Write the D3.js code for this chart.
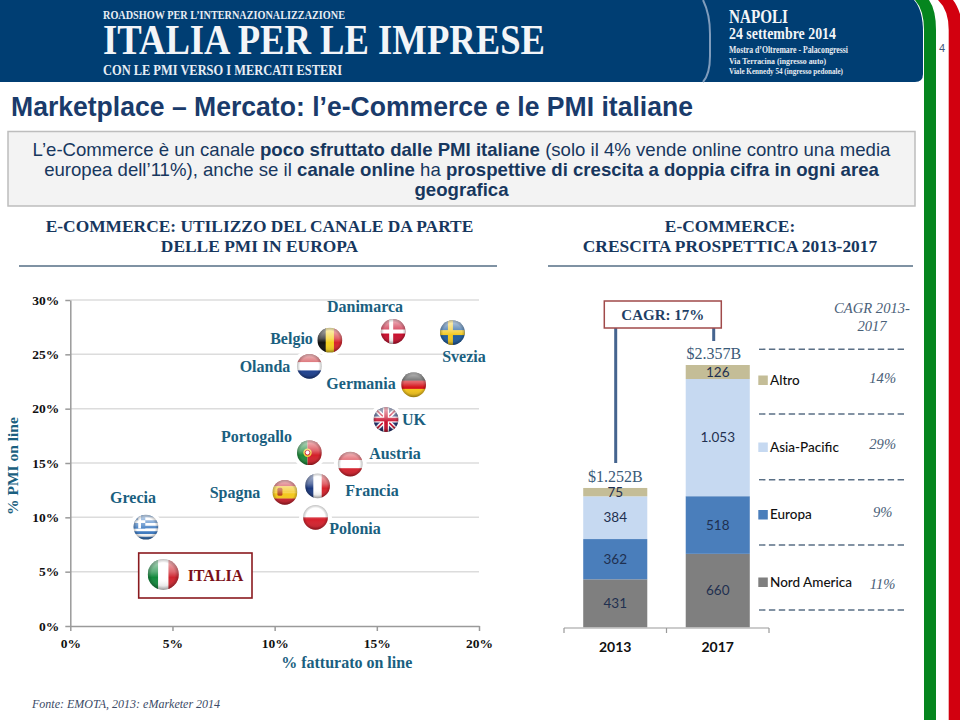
<!DOCTYPE html>
<html><head><meta charset="utf-8">
<script src="https://cdn.jsdelivr.net/npm/d3@7"></script>
<style>html,body{margin:0;padding:0;background:#fff}svg{display:block}</style>
</head><body><div id="c"></div>
<script>
// ---------- data ----------
const countries = ["Danimarca","Svezia","Belgio","Olanda","Germania","UK","Portogallo","Austria","Francia","Spagna","Polonia","Grecia","ITALIA"];
const fatturato = [15.8,18.7,12.7,11.7,16.8,15.45,11.7,13.7,12.1,10.5,12.0,3.7,4.55];
const pmiOnline = [27.1,27.0,26.3,23.9,22.2,19.0,15.95,14.9,12.9,12.3,10.0,9.1,4.75];
const scatterXTicks = [0,5,10,15,20];
const scatterYTicks = [0,5,10,15,20,25,30];
const years = ["2013","2017"];
const regions = ["Nord America","Europa","Asia-Pacific","Altro"];
const values2013 = [431,362,384,75];
const values2017 = [660,518,1053,126];
const valueLabels2013 = ["431","362","384","75"];
const valueLabels2017 = ["660","518","1.053","126"];
const totalLabels = ["$1.252B","$2.357B"];
const regionCagr = ["11%","9%","29%","14%"];

// ---------- helpers ----------
const W=960,H=720, NAVY="#17375e", TEAL="#1a5f80";
const SERIF="'Liberation Serif',serif", SANS="'Liberation Sans',sans-serif", CAL="Lato,sans-serif";
const svg=d3.select("#c").append("svg").attr("width",W).attr("height",H).attr("viewBox",`0 0 ${W} ${H}`);
const defs=svg.append("defs");
function T(g,x,y,s,o={}){
  const t=g.append("text").attr("x",x).attr("y",y).attr("font-family",o.f||SERIF).attr("font-size",o.s||14)
   .attr("fill",o.c||NAVY).attr("text-anchor",o.a||"middle").text(s);
  if(o.w)t.attr("font-weight",o.w); if(o.i)t.attr("font-style","italic");
  if(o.len)t.attr("textLength",o.len).attr("lengthAdjust","spacingAndGlyphs");
  if(o.r)t.attr("transform",`rotate(${o.r} ${x} ${y})`);
  return t;
}
svg.append("rect").attr("width",W).attr("height",H).attr("fill","#fff");

// ---------- header ----------
const head=svg.append("g");
head.append("path").attr("d","M0,0 L914,0 Q923,10 923,32 L923,74 Q923,82 915,82 L0,82 Z").attr("fill","#003e73");
head.append("path").attr("d","M703,0 Q710,14 710,34 L710,56 Q710,74 703,82").attr("fill","none").attr("stroke","#7f9cbc").attr("stroke-width",2);
T(head,103,19,"ROADSHOW PER L’INTERNAZIONALIZZAZIONE",{a:"start",s:13,c:"#e8edf3",w:"bold",len:242});
T(head,103,54,"ITALIA PER LE IMPRESE",{a:"start",s:43,c:"#f3f5f8",w:"bold",len:442});
T(head,103,75,"CON LE PMI VERSO I MERCATI ESTERI",{a:"start",s:14.5,c:"#e8edf3",w:"bold",len:239});
T(head,729,23,"NAPOLI",{a:"start",s:18,c:"#f3f5f8",w:"bold",len:59});
T(head,729,39,"24 settembre 2014",{a:"start",s:16,c:"#f3f5f8",w:"bold",len:107});
T(head,729,53,"Mostra d’Oltremare - Palacongressi",{a:"start",s:9.5,c:"#e8edf3",w:"bold",len:119});
T(head,729,64,"Via Terracina (ingresso auto)",{a:"start",s:9,c:"#e8edf3",w:"bold",len:97});
T(head,729,74,"Viale Kennedy 54 (ingresso pedonale)",{a:"start",s:9,c:"#e8edf3",w:"bold",len:114});

// ribbon
svg.append("path").attr("d","M915,0 Q924,10 924,30 L924,720 L936,720 L936,30 Q936,10 929,0 Z").attr("fill","#05851e");
svg.append("path").attr("d","M938,0 Q948.7,10 948.7,30 L948.7,720 L960,720 L960,14 Q957,5 953,0 Z").attr("fill","#d2000f");
T(svg,942,52,"4",{f:SANS,s:11,c:"#46597a"});

// ---------- title + intro ----------
T(svg,11,116,"Marketplace – Mercato: l’e-Commerce e le PMI italiane",{f:SANS,a:"start",s:27,w:"bold",c:"#1a3b6b",len:682});
svg.append("rect").attr("x",8).attr("y",131.5).attr("width",907).attr("height",74.5).attr("fill","#f3f3f3").attr("stroke","#bdbdbd").attr("stroke-width",1.5);
const introLines=[
 [["L’e-Commerce è un canale ",0],["poco sfruttato dalle PMI italiane",1],[" (solo il 4% vende online contro una media",0]],
 [["europea dell’11%), anche se il ",0],["canale online",1],[" ha ",0],["prospettive di crescita a doppia cifra in ogni area",1]],
 [["geografica",1]]];
introLines.forEach((ln,i)=>{
  const t=T(svg,461.5,155.5+i*20,"",{f:SANS,s:18.6,c:NAVY});
  ln.forEach(([s,b])=>t.append("tspan").attr("font-weight",b?"bold":"normal").text(s));
});
T(svg,259.5,231.5,"E-COMMERCE: UTILIZZO DEL CANALE DA PARTE",{s:17.4,w:"bold"});
T(svg,259.5,252,"DELLE PMI IN EUROPA",{s:17.4,w:"bold"});
T(svg,730,231.5,"E-COMMERCE:",{s:17.4,w:"bold"});
T(svg,730,252,"CRESCITA PROSPETTICA 2013-2017",{s:17.4,w:"bold"});
[[19,497],[548,913]].forEach(([a,b])=>svg.append("line").attr("x1",a).attr("x2",b).attr("y1",266).attr("y2",266).attr("stroke","#7f92a3").attr("stroke-width",2));

// ---------- scatter ----------
const x=d3.scaleLinear().domain([0,20]).range([70.3,479]);
const y=d3.scaleLinear().domain([0,30]).range([626,300]);
const sc=svg.append("g");
sc.append("g").selectAll("line").data(scatterYTicks.filter(d=>d>0)).join("line")
  .attr("x1",x(0)).attr("x2",x(20)).attr("y1",d=>y(d)).attr("y2",d=>y(d)).attr("stroke","#dcdcdc").attr("stroke-width",1.5);
const pct=d=>d+"%";
const ax=sc.append("g").attr("transform",`translate(0,${y(0)})`).call(d3.axisBottom(x).tickValues(scatterXTicks).tickFormat(pct).tickSize(5).tickSizeOuter(0));
const ay=sc.append("g").attr("transform",`translate(${x(0)},0)`).call(d3.axisLeft(y).tickValues(scatterYTicks).tickFormat(pct).tickSize(5).tickSizeOuter(0));
[ax,ay].forEach(a=>{
  a.selectAll("path,line").attr("stroke","#9a9a9a").attr("stroke-width",1.5);
  a.selectAll("text").attr("font-family",SERIF).attr("font-size",13.5).attr("font-weight","bold").attr("fill","#111");
});
ax.selectAll("text").attr("dy",0).attr("y",21.5);
ay.selectAll("text").attr("x",-11).attr("dy","0.32em");
T(sc,14,466,"% PMI on line",{s:15.5,w:"bold",c:TEAL,r:-90}).attr("dominant-baseline","middle");
T(sc,346.7,667.5,"% fatturato on line",{s:16,w:"bold",c:TEAL});

// flags
const gl=defs.append("linearGradient").attr("id","gloss").attr("x1",0).attr("x2",0).attr("y1",0).attr("y2",1);
[[0,"#fff",.72],[.42,"#fff",.3],[.6,"#fff",0],[1,"#000",.2]].forEach(([o,c,a])=>gl.append("stop").attr("offset",o).attr("stop-color",c).attr("stop-opacity",a));
const rim=defs.append("radialGradient").attr("id","rim").attr("cx",.5).attr("cy",.5).attr("r",.5);
[[.75,"#000",0],[1,"#000",.25]].forEach(([o,c,a])=>rim.append("stop").attr("offset",o).attr("stop-color",c).attr("stop-opacity",a));

function stripesH(g,r,cols){const h=2*r/cols.length;cols.forEach((c,i)=>g.append("rect").attr("x",-r).attr("y",-r+i*h).attr("width",2*r).attr("height",h+.3).attr("fill",c));}
function stripesV(g,r,cols){const w=2*r/cols.length;cols.forEach((c,i)=>g.append("rect").attr("x",-r+i*w).attr("y",-r).attr("width",w+.3).attr("height",2*r).attr("fill",c));}
function cross(g,r,bg,c,cx,t){g.append("rect").attr("x",-r).attr("y",-r).attr("width",2*r).attr("height",2*r).attr("fill",bg);
  g.append("rect").attr("x",-r).attr("y",-t/2).attr("width",2*r).attr("height",t).attr("fill",c);
  g.append("rect").attr("x",cx-t/2).attr("y",-r).attr("width",t).attr("height",2*r).attr("fill",c);}
const painters={
 Danimarca:(g,r)=>cross(g,r,"#c8102e","#fff",-2,4),
 Svezia:(g,r)=>cross(g,r,"#1c5a9c","#f2c81e",-2,5),
 Belgio:(g,r)=>stripesV(g,r,["#111","#f4cf1d","#d5232c"]),
 Olanda:(g,r)=>stripesH(g,r,["#c8242c","#fff","#1c3f8f"]),
 Germania:(g,r)=>stripesH(g,r,["#222","#d5141c","#f5c518"]),
 UK:(g,r)=>{g.append("rect").attr("x",-r).attr("y",-r).attr("width",2*r).attr("height",2*r).attr("fill","#1f2f6e");
   [[-r,-r,r,r],[-r,r,r,-r]].forEach(([a,b,c,d])=>{g.append("line").attr("x1",a).attr("y1",b).attr("x2",c).attr("y2",d).attr("stroke","#fff").attr("stroke-width",4.5);
     g.append("line").attr("x1",a).attr("y1",b).attr("x2",c).attr("y2",d).attr("stroke","#c8102e").attr("stroke-width",1.6);});
   g.append("rect").attr("x",-r).attr("y",-3).attr("width",2*r).attr("height",6).attr("fill","#fff");
   g.append("rect").attr("x",-3).attr("y",-r).attr("width",6).attr("height",2*r).attr("fill","#fff");
   g.append("rect").attr("x",-r).attr("y",-1.8).attr("width",2*r).attr("height",3.6).attr("fill","#c8102e");
   g.append("rect").attr("x",-1.8).attr("y",-r).attr("width",3.6).attr("height",2*r).attr("fill","#c8102e");},
 Portogallo:(g,r)=>{g.append("rect").attr("x",-r).attr("y",-r).attr("width",r*.85).attr("height",2*r).attr("fill","#1d8a3a");
   g.append("rect").attr("x",-r*.15).attr("y",-r).attr("width",r*1.15).attr("height",2*r).attr("fill","#d3202a");
   g.append("circle").attr("cx",-r*.15).attr("r",4.2).attr("fill","#f2d23c");
   g.append("circle").attr("cx",-r*.15).attr("r",2.4).attr("fill","#fff").attr("stroke","#c8102e").attr("stroke-width",1);},
 Austria:(g,r)=>stripesH(g,r,["#d5202c","#fff","#d5202c"]),
 Francia:(g,r)=>stripesV(g,r,["#1c3a80","#fff","#d5232c"]),
 Spagna:(g,r)=>{stripesH(g,r,["#c8202c","#f4c81c","#f4c81c","#c8202c"]);
   g.append("rect").attr("x",-r*.6).attr("y",-4.5).attr("width",5).attr("height",8).attr("rx",1.5).attr("fill","#b8481c");},
 Polonia:(g,r)=>stripesH(g,r,["#fff","#d5202c"]),
 Grecia:(g,r)=>{const n=9,h=2*r/n;for(let i=0;i<n;i++)g.append("rect").attr("x",-r).attr("y",-r+i*h).attr("width",2*r).attr("height",h+.2).attr("fill",i%2?"#fff":"#3a78c0");
   g.append("rect").attr("x",-r).attr("y",-r).attr("width",r*.95).attr("height",h*5).attr("fill","#3a78c0");
   g.append("rect").attr("x",-r).attr("y",-r+h*2).attr("width",r*.95).attr("height",h).attr("fill","#fff");
   g.append("rect").attr("x",-r+r*.38).attr("y",-r).attr("width",h).attr("height",h*5).attr("fill","#fff");},
 ITALIA:(g,r)=>stripesV(g,r,["#12893c","#fff","#cf2630"])
};
const labelPlace={ // text centre x, baseline y in page pixels
 Danimarca:[365,312],Svezia:[464,362],Belgio:[291.5,344],Olanda:[265,372],Germania:[361,389],UK:[414,425],
 Portogallo:[256.5,442],Austria:[395,459],Francia:[372,496],Spagna:[235,498],Polonia:[355,534],Grecia:[133,503],ITALIA:[215.5,581]};

sc.append("rect").attr("x",138.7).attr("y",553).attr("width",113.3).attr("height",45).attr("fill","#fff").attr("stroke","#8a1a1f").attr("stroke-width",1.6);
countries.forEach((c,i)=>{
  const r=c==="ITALIA"?15.5:12.4;
  const g=sc.append("g").attr("transform",`translate(${x(fatturato[i])},${y(pmiOnline[i])})`);
  g.append("circle").attr("r",r+4).attr("fill","#fff");
  defs.append("clipPath").attr("id","f"+i).append("circle").attr("r",r);
  const inner=g.append("g").attr("clip-path",`url(#f${i})`);
  painters[c](inner,r);
  g.append("circle").attr("r",r).attr("fill","url(#gloss)");
  g.append("circle").attr("r",r).attr("fill","url(#rim)");
  const [lx,ly]=labelPlace[c];
  T(sc,lx,ly,c,c==="ITALIA"?{s:16,w:"bold",c:"#7a1018"}:{s:16,w:"bold",c:TEAL});
});

// ---------- stacked bars ----------
const bx=d3.scaleBand().domain(years).range([564,769]).paddingInner(.375).paddingOuter(.1875);
const by=d3.scaleLinear().domain([0,2357]).range([627.3,365]);
const colour=d3.scaleOrdinal().domain(regions).range(["#7f7f7f","#4a7ebb","#c6d9f1","#c4bd97"]);
const rows=years.map((yr,i)=>{const v=i?values2017:values2013;const o={year:yr};regions.forEach((r,j)=>o[r]=v[j]);return o;});
const series=d3.stack().keys(regions)(rows);
const bars=svg.append("g");
series.forEach((s,j)=>{
  bars.append("g").selectAll("rect").data(s).join("rect")
   .attr("x",d=>bx(d.data.year)).attr("width",bx.bandwidth())
   .attr("y",d=>by(d[1])).attr("height",d=>by(d[0])-by(d[1])).attr("fill",colour(s.key));
  s.forEach((d,i)=>{
    const lab=(i?valueLabels2017:valueLabels2013)[j];
    T(bars,bx(d.data.year)+bx.bandwidth()/2,(by(d[0])+by(d[1]))/2,lab,{f:CAL,s:13.5,c:"#1f3050"}).attr("dy","0.35em");
  });
});
const bAxis=[564,666.5,769];
bars.append("line").attr("x1",bAxis[0]).attr("x2",bAxis[2]).attr("y1",628).attr("y2",628).attr("stroke","#999").attr("stroke-width",1.2);
bAxis.forEach(v=>bars.append("line").attr("x1",v).attr("x2",v).attr("y1",628).attr("y2",633).attr("stroke","#999").attr("stroke-width",1.2));
years.forEach(yr=>T(bars,bx(yr)+bx.bandwidth()/2,652,yr,{f:CAL,s:14,w:"bold",c:"#111"}));
rows.forEach((r,i)=>{
  const tot=d3.sum(regions,k=>r[k]);
  T(bars,bx(r.year)+bx.bandwidth()/2-(i?4:0),by(tot)-6,totalLabels[i],{s:16,c:"#3a5a78"});
});
// CAGR bracket
[[615.7,463],[713.7,341]].forEach(([a,b])=>bars.append("line").attr("x1",a).attr("x2",a).attr("y1",328).attr("y2",b).attr("stroke","#45648f").attr("stroke-width",3));
bars.append("rect").attr("x",604.3).attr("y",301).attr("width",117).attr("height",27).attr("fill","#fff").attr("stroke","#a04a4a").attr("stroke-width",1.5);
T(bars,662.8,320,"CAGR: 17%",{s:15,w:"bold",c:"#1f3f66"});
T(bars,872,313,"CAGR 2013-",{s:14.6,i:1,c:"#4a6078"});
T(bars,872,330.5,"2017",{s:14.6,i:1,c:"#4a6078"});
[349.3,414,479.7,545,610].forEach(v=>bars.append("line").attr("x1",759).attr("x2",907).attr("y1",v).attr("y2",v).attr("stroke","#5a6f85").attr("stroke-width",1.4).attr("stroke-dasharray","6.4 3.5"));
const legY={"Altro":380,"Asia-Pacific":447,"Europa":514.5,"Nord America":582};
const cagrY={"Altro":383,"Asia-Pacific":449,"Europa":517,"Nord America":589};
regions.forEach((r,i)=>{
  bars.append("rect").attr("x",758.3).attr("y",legY[r]-4.5).attr("width",9.5).attr("height",9.5).attr("fill",colour(r));
  T(bars,770,legY[r]+4.7,r,{f:CAL,s:13.5,a:"start",c:"#111",w:500});
  T(bars,882.7,cagrY[r],regionCagr[i],{s:14.6,i:1,c:"#4a6078"});
});

// ---------- source ----------
T(svg,32,708,"Fonte: EMOTA, 2013: eMarketer 2014",{s:12,i:1,a:"start",c:"#3a4a66"});
</script></body></html>
